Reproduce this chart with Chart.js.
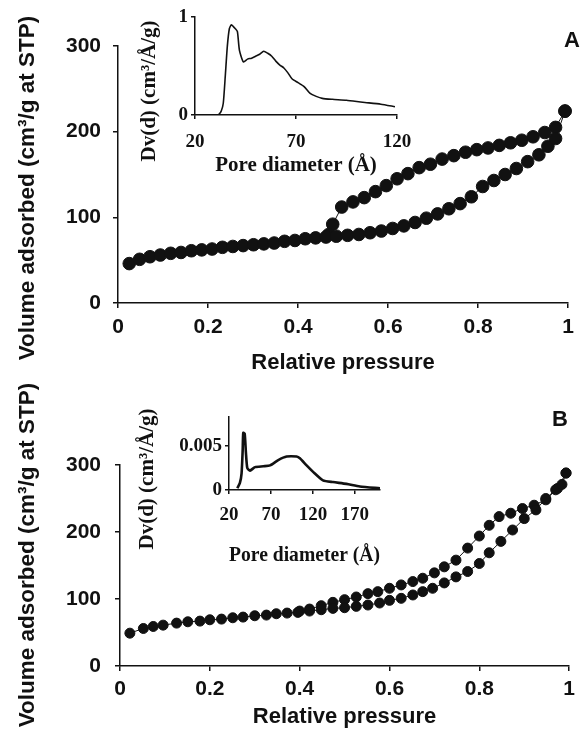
<!DOCTYPE html>
<html>
<head>
<meta charset="utf-8">
<script src="https://cdn.jsdelivr.net/npm/chart.js@4.4.1/dist/chart.umd.min.js"></script>
<style>
  body { margin: 0; background: #fff; }
  #wrap { position: relative; width: 581px; height: 731px; overflow: hidden; }
  canvas { position: absolute; left: 0; top: 0; }
  .vt { position: absolute; transform: translate(-50%, -50%) rotate(-90deg); white-space: nowrap; color: #111; }
  .serif { font: bold 21px 'Liberation Serif', 'Times New Roman', serif; }
  .sans { font: bold 22.5px 'Liberation Sans', Arial, sans-serif; }
  .tag { position: absolute; transform: translate(-50%, -50%); font: bold 22px 'Liberation Sans', Arial, sans-serif; color: #111; }
</style>
</head>
<body>
<div id="wrap">
  <canvas id="mainA" width="581" height="731"></canvas>
  <canvas id="mainB" width="581" height="731"></canvas>
  <canvas id="insetA" width="581" height="731"></canvas>
  <canvas id="insetB" width="581" height="731"></canvas>
  <div class="vt sans" style="left:27px; top:188px">Volume adsorbed (cm³/g at STP)</div>
  <div class="vt sans" style="left:27px; top:555px">Volume adsorbed (cm³/g at STP)</div>
  <div class="vt serif" style="left:148px; top:91px">Dv(d) (cm³/Å/g)</div>
  <div class="vt serif" style="left:146px; top:479px">Dv(d) (cm³/Å/g)</div>
  <div class="tag" style="left:572px; top:40px">A</div>
  <div class="tag" style="left:560px; top:419px">B</div>
</div>
<script>
// Panel A isotherm (relative pressure vs volume adsorbed)
const pressAdsA = [0.025, 0.048, 0.071, 0.094, 0.117, 0.14, 0.163, 0.186, 0.209, 0.232, 0.255, 0.278, 0.301, 0.324,
  0.347, 0.37, 0.393, 0.416, 0.439, 0.462, 0.485, 0.51, 0.535, 0.56, 0.585, 0.61, 0.635, 0.66, 0.685, 0.71,
  0.735, 0.76, 0.785, 0.81, 0.835, 0.86, 0.885, 0.91, 0.935, 0.955, 0.972, 0.993];
const volAdsA = [46, 51, 54, 56, 58, 59, 61, 62, 63, 65, 66, 67, 68, 69,
  70, 72, 73, 75, 76, 77, 78, 79, 80, 82, 84, 87, 90, 94, 99, 104,
  110, 116, 124, 136, 143, 150, 157, 165, 173, 183, 192, 224];
const pressDesA = [0.993, 0.972, 0.948, 0.922, 0.897, 0.872, 0.847, 0.822, 0.797, 0.772, 0.746, 0.72, 0.694,
  0.669, 0.644, 0.62, 0.596, 0.572, 0.547, 0.522, 0.497, 0.477, 0.468];
const volDesA = [224, 205, 199, 194, 190, 187, 184, 181, 179, 176, 172, 168, 162,
  158, 151, 145, 137, 130, 123, 118, 112, 92, 80];

// Panel B isotherm
const pressAdsB = [0.022, 0.052, 0.074, 0.096, 0.126, 0.151, 0.178, 0.2, 0.226, 0.251, 0.274, 0.3, 0.326, 0.348,
  0.372, 0.396, 0.422, 0.448, 0.474, 0.5, 0.526, 0.552, 0.578, 0.6, 0.626, 0.652, 0.674, 0.696, 0.722, 0.748,
  0.774, 0.8, 0.822, 0.848, 0.874, 0.9, 0.926, 0.948, 0.97, 0.984, 0.993];
const volAdsB = [49, 56, 59, 61, 64, 66, 67, 69, 70, 72, 73, 75, 76, 78,
  79, 80, 82, 84, 86, 87, 89, 91, 94, 98, 101, 106, 111, 116, 124, 133,
  141, 153, 169, 186, 203, 220, 233, 250, 263, 271, 288];
const pressDesB = [0.993, 0.974, 0.948, 0.922, 0.896, 0.87, 0.844, 0.822, 0.8, 0.774, 0.748, 0.722, 0.7, 0.674,
  0.652, 0.626, 0.6, 0.574, 0.552, 0.526, 0.5, 0.474, 0.448, 0.422, 0.4];
const volDesB = [288, 265, 248, 240, 235, 228, 223, 210, 194, 176, 158, 148, 139, 131,
  126, 121, 116, 111, 108, 103, 99, 95, 90, 85, 82];

// Inset pore size distributions
const poreA = [20, 31, 32, 33, 34, 35, 36, 37, 38, 40, 41, 42, 44, 46, 48, 50, 52, 54, 56, 58, 60, 62, 64, 66, 68,
  71, 74, 77, 80, 83, 88, 95, 103, 112, 119];
const dvA = [0, 0, 0.01, 0.04, 0.12, 0.4, 0.7, 0.88, 0.92, 0.88, 0.85, 0.66, 0.54, 0.57, 0.58, 0.6, 0.62, 0.65, 0.63,
  0.6, 0.55, 0.51, 0.48, 0.43, 0.37, 0.33, 0.29, 0.22, 0.19, 0.17, 0.16, 0.15, 0.13, 0.11, 0.085];
const poreB = [30, 33, 35, 36.3, 37, 38.7, 40.2, 41.8, 45, 51, 61, 69, 78.7, 88.7, 100.6, 104.5, 112.5, 122, 132, 144, 160, 176, 200];
const dvB = [0.0002, 0.0008, 0.0019, 0.0045, 0.0065, 0.0064, 0.0042, 0.0025, 0.0022, 0.0026, 0.0027, 0.0028, 0.0034,
  0.0038, 0.0038, 0.0036, 0.0028, 0.0019, 0.0011, 0.0009, 0.0007, 0.0004, 0.0002];

// tick labels
const pressureTicks = [0, 0.2, 0.4, 0.6, 0.8, 1];
const volumeTicks = [0, 100, 200, 300];
const poreTicksA = [20, 70, 120];
const dvTicksA = [0, 1];
const poreTicksB = [20, 70, 120, 170];
const dvTicksB = [0, 0.005];

const W = 581, H = 731;
const INK = '#111';
const sans = "'Liberation Sans', Arial, sans-serif";
const serif = "'Liberation Serif', 'Times New Roman', serif";

const pts = (xs, ys) => xs.map((x, i) => ({ x, y: ys[i] }));

function axis(o) {
  return {
    type: 'linear',
    min: o.min, max: o.max,
    afterBuildTicks: s => { s.ticks = o.ticks.map(v => ({ value: v })); },
    afterFit: s => { if (o.width != null) s.width = o.width; if (o.height != null) s.height = o.height; },
    border: { display: true, color: INK, width: o.lw },
    grid: { display: true, drawOnChartArea: false, drawTicks: true, tickLength: o.tl, color: INK, lineWidth: o.lw },
    ticks: {
      color: INK, padding: o.pad, maxRotation: 0, minRotation: 0, autoSkip: false,
      font: { family: o.family, size: o.size, weight: 'bold' },
      callback: v => String(v)
    },
    title: o.title ? {
      display: true, text: o.title, color: INK,
      font: { family: o.family, size: o.titleSize, weight: 'bold' },
      padding: o.titlePad
    } : { display: false }
  };
}

function isothermChart(id, ads, des, box, xH, xPad, yPad, xTitlePad, radius) {
  const ds = (data) => ({
    data, borderColor: INK, borderWidth: 1, backgroundColor: INK,
    pointBackgroundColor: INK, pointBorderColor: INK, pointBorderWidth: 1,
    pointRadius: radius, tension: 0, clip: false
  });
  return new Chart(document.getElementById(id), {
    type: 'line',
    data: { datasets: [ds(ads), ds(des)] },
    options: {
      responsive: false, animation: false,
      layout: { padding: { left: 0, top: box.top, right: W - box.right, bottom: H - box.bottom - xH } },
      plugins: { legend: { display: false }, tooltip: { enabled: false } },
      scales: {
        x: axis({ min: 0, max: 1, ticks: pressureTicks, height: xH, lw: 1.5, tl: 5, pad: xPad,
          family: sans, size: 21, title: 'Relative pressure', titleSize: 22, titlePad: { top: 0, bottom: xTitlePad } }),
        y: axis({ min: 0, max: 300, ticks: volumeTicks, width: box.left, lw: 1.5, tl: 5, pad: yPad,
          family: sans, size: 21 })
      }
    }
  });
}

function insetChart(id, data, box, xOpt, yOpt, lw, xH, xPad, yPad, xTitlePad) {
  return new Chart(document.getElementById(id), {
    type: 'line',
    data: { datasets: [{ data, borderColor: INK, borderWidth: lw, pointRadius: 0, tension: 0.2, fill: false }] },
    options: {
      responsive: false, animation: false,
      layout: { padding: { left: box.left - 80, top: box.top, right: W - box.right, bottom: H - box.bottom - xH } },
      plugins: { legend: { display: false }, tooltip: { enabled: false } },
      scales: {
        x: axis(Object.assign({ height: xH, lw: 1.5, tl: 4, pad: xPad, family: serif, size: 19,
          title: 'Pore diameter (Å)', titleSize: 21, titlePad: { top: 0, bottom: xTitlePad } }, xOpt)),
        y: axis(Object.assign({ width: 80, lw: 1.5, tl: 4, pad: yPad, family: serif, size: 19 }, yOpt))
      }
    }
  });
}

isothermChart('mainA', pts(pressAdsA, volAdsA), pts(pressDesA, volDesA),
  { left: 118, top: 46, right: 573, bottom: 303 }, 80, 7, 12, 7, 6.3);
isothermChart('mainB', pts(pressAdsB, volAdsB), pts(pressDesB, volDesB),
  { left: 120, top: 465, right: 570, bottom: 666 }, 65, 6, 14, 1, 5);

insetChart('insetA', pts(poreA, dvA), { left: 195, top: 17, right: 397, bottom: 115 },
  { min: 20, max: 120, ticks: poreTicksA }, { min: 0, max: 1, ticks: dvTicksA }, 1.6, 70, 12, 3, 7);
insetChart('insetB', pts(poreB, dvB), { left: 229, top: 417, right: 380, bottom: 490 },
  { min: 20, max: 200, ticks: poreTicksB }, { min: 0, max: 0.0083, ticks: dvTicksB }, 2.6, 80, 10, 3, 2);
</script>
</body>
</html>
